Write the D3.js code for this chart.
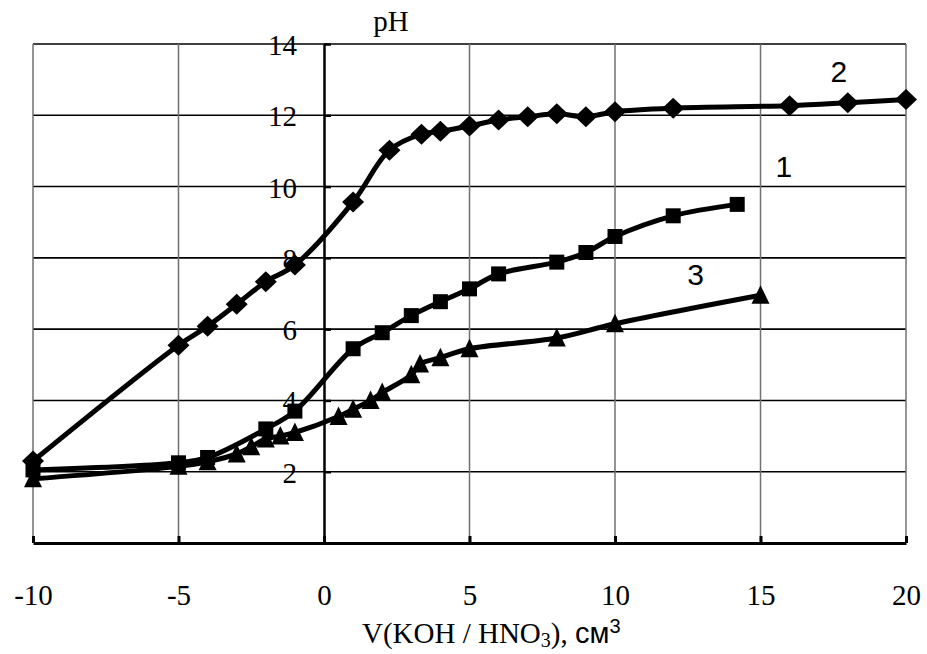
<!DOCTYPE html>
<html>
<head>
<meta charset="utf-8">
<script src="https://cdn.jsdelivr.net/npm/d3@7"></script>
<style>
  body { margin: 0; background: #fff; }
</style>
</head>
<body>
<div id="chart"></div>
<script>
// curve 1 (squares)
const vol1 = [-10, -5, -4, -2, -1, 1, 2, 3, 4, 5, 6, 8, 9, 10, 12, 14.2];
const ph1 = [2.05, 2.25, 2.4, 3.2, 3.7, 5.45, 5.9, 6.38, 6.77, 7.13, 7.55, 7.88, 8.15, 8.6, 9.18, 9.5];
// curve 2 (diamonds)
const vol2 = [-10, -5, -4, -3, -2, -1, 1, 2.25, 3.35, 4, 5, 6, 7, 8, 9, 10, 12, 16, 18, 20];
const ph2 = [2.3, 5.55, 6.08, 6.7, 7.33, 7.8, 9.57, 11.02, 11.47, 11.55, 11.7, 11.87, 11.96, 12.04, 11.96, 12.1, 12.2, 12.27, 12.35, 12.44];
// curve 3 (triangles)
const vol3 = [-10, -5, -4, -3, -2.5, -2, -1.5, -1, 0.5, 1, 1.6, 2, 3, 3.3, 4, 5, 8, 10, 15];
const ph3 = [1.8, 2.15, 2.28, 2.5, 2.7, 2.92, 3.0, 3.1, 3.55, 3.75, 4.0, 4.22, 4.72, 5.02, 5.2, 5.45, 5.75, 6.15, 6.95];

const xTicks = [-10, -5, 0, 5, 10, 15, 20];
const yTicks = [2, 4, 6, 8, 10, 12, 14];
const curveNames = ['1', '2', '3'];

const serif = '"Liberation Serif", "Times New Roman", serif';
const sans = '"Liberation Sans", Arial, sans-serif';

const width = 927, height = 654;

const svg = d3.select('#chart').append('svg')
  .attr('width', width)
  .attr('height', height);

const x = d3.scaleLinear().domain([-10, 20]).range([33, 906]);
const y = d3.scaleLinear().domain([0, 14]).range([543, 44]);

// grid
svg.append('g').selectAll('line')
  .data(yTicks)
  .enter().append('line')
  .attr('x1', x(-10)).attr('x2', x(20))
  .attr('y1', (d) => y(d)).attr('y2', (d) => y(d))
  .attr('stroke', '#000').attr('stroke-width', 1.6);

svg.append('g').selectAll('line')
  .data(xTicks.filter((d) => d !== 0))
  .enter().append('line')
  .attr('x1', (d) => x(d)).attr('x2', (d) => x(d))
  .attr('y1', y(0)).attr('y2', y(14))
  .attr('stroke', '#707070').attr('stroke-width', 1.5);

// x axis
const xAxis = svg.append('g')
  .attr('transform', 'translate(0,' + y(0) + ')')
  .call(d3.axisBottom(x).tickValues(xTicks).tickFormat((d) => String(d))
    .tickSize(-7).tickSizeOuter(0).tickPadding(41));
xAxis.select('.domain').attr('stroke', '#000').attr('stroke-width', 3);
xAxis.selectAll('.tick line').attr('stroke', '#000').attr('stroke-width', 3);
xAxis.selectAll('.tick text')
  .style('font-family', serif).style('font-size', '29px').attr('fill', '#000');

// y axis
const yAxis = svg.append('g')
  .attr('transform', 'translate(' + x(0) + ',0)')
  .call(d3.axisLeft(y).tickValues(yTicks).tickFormat((d) => String(d))
    .tickSize(-7).tickSizeOuter(0).tickPadding(27));
yAxis.select('.domain').attr('stroke', '#000').attr('stroke-width', 2.5);
yAxis.selectAll('.tick line').attr('stroke', '#000').attr('stroke-width', 2.5);
yAxis.selectAll('.tick text')
  .attr('dy', '0.36em')
  .style('font-family', serif).style('font-size', '29px').attr('fill', '#000');

// curves
const line = d3.line()
  .x((d) => x(d[0]))
  .y((d) => y(d[1]))
  .curve(d3.curveCatmullRom.alpha(0.5));

const series = [
  { name: '1', pts: d3.zip(vol1, ph1), marker: 'square' },
  { name: '2', pts: d3.zip(vol2, ph2), marker: 'diamond' },
  { name: '3', pts: d3.zip(vol3, ph3), marker: 'triangle' }
];

const markerPath = {
  square: 'M-7.5,-7.5H7.5V7.5H-7.5Z',
  diamond: 'M0,-10.5L11,0L0,10.5L-11,0Z',
  triangle: 'M0,-10L9,8.5L-9,8.5Z'
};

series.forEach((s) => {
  svg.append('path')
    .datum(s.pts)
    .attr('fill', 'none')
    .attr('stroke', '#000')
    .attr('stroke-width', 5)
    .attr('stroke-linejoin', 'round')
    .attr('d', line);

  svg.append('g').selectAll('path')
    .data(s.pts)
    .enter().append('path')
    .attr('transform', (d) => 'translate(' + x(d[0]) + ',' + y(d[1]) + ')')
    .attr('d', markerPath[s.marker])
    .attr('fill', '#000');
});

// curve numbers
const labelPos = [[15.8, 10.27], [17.69, 12.93], [12.77, 7.24]];
svg.append('g').selectAll('text')
  .data(curveNames)
  .enter().append('text')
  .attr('x', (d, i) => x(labelPos[i][0]))
  .attr('y', (d, i) => y(labelPos[i][1]))
  .attr('text-anchor', 'middle')
  .style('font-family', sans)
  .style('font-size', '30px')
  .text((d) => d);

// axis titles
svg.append('text')
  .attr('x', 391).attr('y', 31)
  .attr('text-anchor', 'middle')
  .style('font-family', serif)
  .style('font-size', '29px')
  .text('pH');

const title = svg.append('text')
  .attr('x', 362).attr('y', 643)
  .style('font-size', '29px');
title.append('tspan').style('font-family', serif).text('V(KOH / HNO');
title.append('tspan').style('font-family', serif).style('font-size', '20px').attr('dy', 4).text('3');
title.append('tspan').style('font-family', serif).attr('dy', -4).text('), ');
title.append('tspan').style('font-family', sans).text('см');
title.append('tspan').style('font-family', sans).style('font-size', '20px').attr('dy', -10).text('3');
</script>
</body>
</html>
